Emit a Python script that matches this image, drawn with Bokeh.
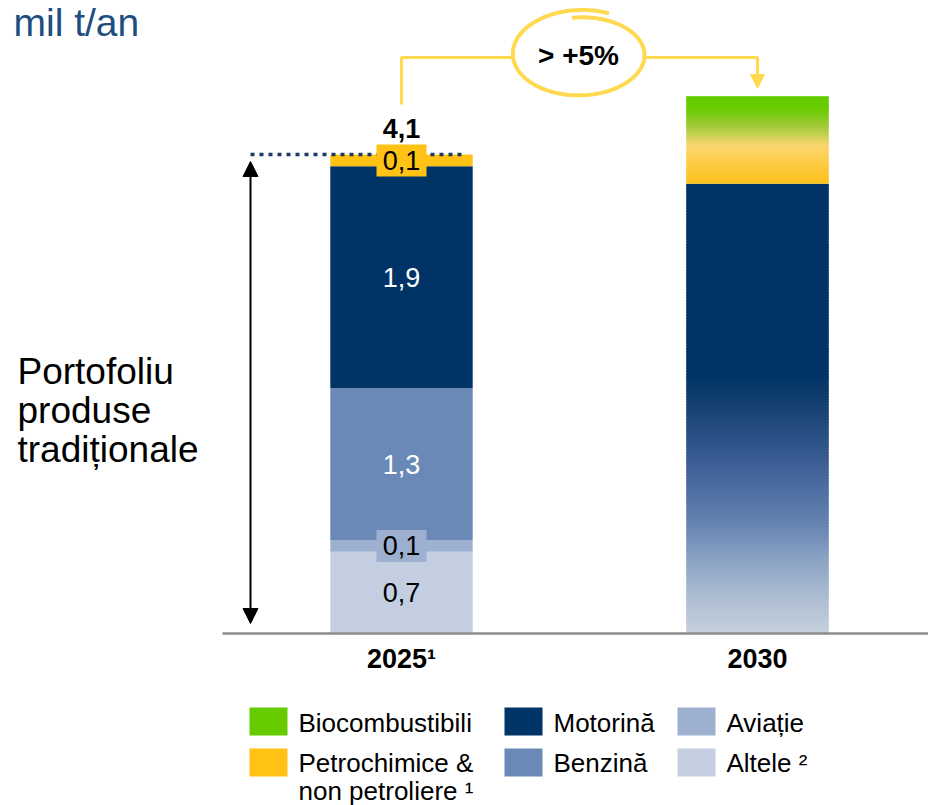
from bokeh.plotting import figure
from bokeh.models import Range1d, Arrow, NormalHead
from bokeh.core.properties import value
from bokeh.embed import file_html
from bokeh.resources import INLINE
import math

# ---------------- data ----------------
years = ["2025", "2030"]
tick_labels = ["2025\u00b9", "2030"]
series = ["Altele", "Aviație", "Benzină", "Motorină", "Petrochimice"]
values_2025 = [0.7, 0.1, 1.3, 1.9, 0.1]
total_2025_label = "4,1"
traditional_2030 = 3.85
petrochimice_2030 = 0.45
biocombustibili_2030 = 0.30
growth_label = "> +5%"
legend_labels = ["Biocombustibili", "Petrochimice &", "Motorină", "Benzină", "Aviație", "Altele \u00b2"]
legend_extra = "non petroliere \u00b9"

# ---------------- style ----------------
C_BIO = "#66CC00"
C_PETRO = "#FFC215"
C_MOTO = "#003366"
C_BENZ = "#6A89B7"
C_AVIA = "#9DB0CF"
C_ALT = "#C3CEE0"
seg_colors = [C_ALT, C_AVIA, C_BENZ, C_MOTO, C_PETRO]
seg_text_colors = ["black", "black", "white", "white", "black"]
YEL = "#FFD94F"
FONT = value("Liberation Sans")

W, H = 928, 805
KX, CX = 356.0, 401.0      # px per x-unit, pixel x of first bar
KY, BY = 116.8, 633.0      # px per y-unit, pixel y of baseline


def sx(px):
    return (px - CX) / KX


def sy(py):
    return (BY - py) / KY


p = figure(width=W, height=H, output_backend="svg", toolbar_location=None,
           x_range=Range1d(sx(0), sx(W)), y_range=Range1d(sy(H), sy(0)),
           x_axis_type=None, y_axis_type=None, min_border=0)
p.grid.visible = False
p.outline_line_color = None
p.background_fill_color = "white"
p.border_fill_color = "white"

BW = 0.4

# ---------------- 2025 stacked bar ----------------
bottoms, tops = [], []
acc = 0.0
for v in values_2025:
    bottoms.append(acc)
    acc += v
    tops.append(acc)
total_2025 = acc
p.vbar(x=[0] * len(values_2025), width=BW, bottom=bottoms, top=tops,
       fill_color=seg_colors, line_color=None)

# ---------------- 2030 gradient bar ----------------
def hex2rgb(h):
    return tuple(int(h[i:i + 2], 16) for i in (1, 3, 5))


def interp(stops, f):
    for (f0, c0), (f1, c1) in zip(stops, stops[1:]):
        if f <= f1:
            t = 0 if f1 == f0 else (f - f0) / (f1 - f0)
            a, b = hex2rgb(c0), hex2rgb(c1)
            return "#%02x%02x%02x" % tuple(round(a[i] + (b[i] - a[i]) * t) for i in range(3))
    return stops[-1][1]


blue_stops = [(0.0, "#C5D0DC"), (0.073, "#B0BFD3"), (0.162, "#8CA3C5"), (0.251, "#6382B0"),
              (0.296, "#5475A5"), (0.362, "#41639A"), (0.436, "#2A5085"), (0.511, "#15406F"),
              (0.575, "#003366"), (1.0, "#003366")]
top_stops = [(0.0, "#FEC11A"), (0.23, "#FDCB45"), (0.437, "#FCD670"), (0.575, "#C0CF4D"),
             (0.69, "#98C92F"), (0.862, "#66CC00"), (1.0, "#66CC00")]


def gradient_slices(b0, b1, stops, n):
    h = (b1 - b0) / n
    bs, ts, cs = [], [], []
    for i in range(n):
        bs.append(b0 + i * h)
        ts.append(b0 + (i + 1) * h + (h * 0.6 if i < n - 1 else 0))
        cs.append(interp(stops, (i + 0.5) / n))
    return bs, ts, cs


b1, t1, c1 = gradient_slices(0.0, traditional_2030, blue_stops, 160)
top_2030 = traditional_2030 + petrochimice_2030 + biocombustibili_2030
b2, t2, c2 = gradient_slices(traditional_2030, top_2030, top_stops, 60)
p.vbar(x=[1] * len(b1 + b2), width=BW, bottom=b1 + b2, top=t1 + t2,
       fill_color=c1 + c2, line_color=None)

# ---------------- baseline and tick labels ----------------
p.segment(x0=[sx(222)], y0=[0], x1=[sx(W)], y1=[0], line_color="#8C8C8C", line_width=2.5)
p.text(x=[0, 1], y=[sy(658)] * 2, text=tick_labels, text_font=FONT, text_font_style="bold",
       text_font_size="27px", text_align="center", text_baseline="middle", text_color="black")

# ---------------- dotted total line ----------------
p.segment(x0=[sx(250)], y0=[total_2025], x1=[sx(466)], y1=[total_2025],
          line_color="#1B3A66", line_width=3.5, line_dash="4 5")

# ---------------- segment labels ----------------
lab_x, lab_y, lab_t, lab_c = [], [], [], []
box_l, box_r, box_b, box_t, box_c = [], [], [], [], []
for v, b, t, col, tc in zip(values_2025, bottoms, tops, seg_colors, seg_text_colors):
    mid = (b + t) / 2
    lab_x.append(0)
    lab_y.append(mid)
    lab_t.append(("%.1f" % v).replace(".", ","))
    lab_c.append(tc)
    if v < 0.2:
        box_l.append(-25 / KX)
        box_r.append(25 / KX)
        box_b.append(mid - 16 / KY)
        box_t.append(mid + 16 / KY)
        box_c.append(col)
p.quad(left=box_l, right=box_r, bottom=box_b, top=box_t, fill_color=box_c, line_color=None)
p.text(x=lab_x, y=lab_y, text=lab_t, text_color=lab_c, text_font=FONT, text_font_size="27px",
       text_align="center", text_baseline="middle")

# total label
p.text(x=[0], y=[sy(128)], text=[total_2025_label], text_font=FONT, text_font_style="bold",
       text_font_size="27px", text_align="center", text_baseline="middle", text_color="black")

# ---------------- double arrow ----------------
p.add_layout(Arrow(x_start=sx(250), y_start=sy(623), x_end=sx(250), y_end=sy(161),
                   line_color="black", line_width=2,
                   start=NormalHead(size=15, fill_color="black", line_color="black"),
                   end=NormalHead(size=15, fill_color="black", line_color="black")))

# ---------------- left text ----------------
p.text(x=[sx(17)] * 3, y=[sy(371), sy(410), sy(449)],
       text=["Portofoliu", "produse", "tradiționale"], text_font=FONT, text_font_size="37px",
       text_align="left", text_baseline="middle", text_color="black")

# ---------------- title ----------------
p.text(x=[sx(13)], y=[sy(22)], text=["mil t/an"], text_font=FONT, text_font_size="39px",
       text_align="left", text_baseline="middle", text_color="#1C4E80")

# ---------------- growth connector ----------------
cxe, cye = 580.0, 54.0
xs, ys = [], []
n = 200
for i in range(n + 1):
    f = i / n
    ang = math.radians(66 + f * 392)
    rx = 70 - 8 * f
    ry = 45 - 8 * f
    xs.append(sx(cxe + rx * math.cos(ang)))
    ys.append(sy(cye - ry * math.sin(ang)))
p.line(xs, ys, line_color=YEL, line_width=4)
p.line([0, 0, sx(512)], [sy(104), sy(57), sy(57)], line_color=YEL, line_width=3)
p.line([sx(642), 1, 1], [sy(57), sy(57), sy(74)], line_color=YEL, line_width=3)
p.add_layout(Arrow(x_start=1, y_start=sy(70), x_end=1, y_end=sy(88), line_color=YEL, line_width=3,
                   end=NormalHead(size=14, fill_color=YEL, line_color=YEL)))
p.text(x=[sx(578)], y=[sy(55)], text=[growth_label], text_font=FONT, text_font_style="bold",
       text_font_size="28px", text_align="center", text_baseline="middle", text_color="black")

# ---------------- legend ----------------
leg_colors = [C_BIO, C_PETRO, C_MOTO, C_BENZ, C_AVIA, C_ALT]
col_sq = [249, 249, 504, 504, 677, 677]
row_top = [707, 748, 707, 748, 707, 748]
p.quad(left=[sx(v) for v in col_sq], right=[sx(v + 38) for v in col_sq],
       top=[sy(v) for v in row_top], bottom=[sy(v + 28) for v in row_top],
       fill_color=leg_colors, line_color=None)
txt_x = [298, 298, 553, 553, 726, 726]
txt_mid = [722, 762, 722, 762, 722, 762]
p.text(x=[sx(v) for v in txt_x] + [sx(298)], y=[sy(v) for v in txt_mid] + [sy(790)],
       text=legend_labels + [legend_extra], text_font=FONT, text_font_size="26px",
       text_align="left", text_baseline="middle", text_color="black")

open("out.html", "w").write(file_html(p, INLINE))
